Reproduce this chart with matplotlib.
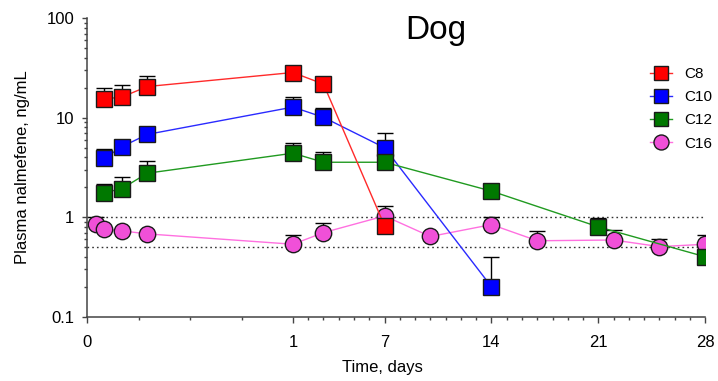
import numpy as np
import matplotlib
matplotlib.use('Agg')
import matplotlib.pyplot as plt
from matplotlib.lines import Line2D
from matplotlib.ticker import FixedLocator, NullFormatter

plt.rcParams['font.family'] = ['Liberation Sans', 'DejaVu Sans']

# --- data (time in days) ---
t_c8 = [2/24, 4/24, 7/24, 1, 3, 7]
c8 = [15.5, 16.1, 20.6, 28.5, 21.8, 0.82]
c8_top = [20.1, 21.1, 26.0, 30.5, 21.8, 0.82]

t_c10 = [2/24, 4/24, 7/24, 1, 3, 7, 14]
c10 = [3.9, 5.1, 6.8, 12.8, 10.1, 5.0, 0.2]
c10_top = [4.9, 5.1, 6.8, 16.3, 12.4, 7.1, 0.4]

t_c12 = [2/24, 4/24, 7/24, 1, 3, 7, 14, 21, 28]
c12 = [1.77, 1.93, 2.77, 4.4, 3.57, 3.57, 1.83, 0.80, 0.40]
c12_top = [2.18, 2.56, 3.71, 5.63, 4.57, 3.57, 1.83, 0.99, 0.40]

t_c16 = [1/24, 2/24, 4/24, 7/24, 1, 3, 7, 10, 14, 17, 22, 25, 28]
c16 = [0.85, 0.76, 0.73, 0.68, 0.535, 0.70, 1.03, 0.64, 0.843, 0.58, 0.59, 0.506, 0.535]
c16_top = [1.0, 0.76, 0.73, 0.68, 0.66, 0.87, 1.29, 0.64, 1.0, 0.72, 0.74, 0.61, 0.67]

x_major = [0, 1, 7, 14, 21, 28]
x_labels = ['0', '1', '7', '14', '21', '28']

# axis: first day stretched, then linear 1..28
k = 15.3 / 206.0


def fwd(x):
    x = np.asarray(x, dtype=float)
    return np.where(x <= 1, x, 1 + (x - 1) * k)


def inv(y):
    y = np.asarray(y, dtype=float)
    return np.where(y <= 1, y, 1 + (y - 1) / k)


fig = plt.figure(figsize=(7.18, 3.81), dpi=100)
ax = fig.add_axes([0.1216, 0.1688, 0.8607, 0.7832])
ax.set_xscale('function', functions=(fwd, inv))
ax.set_yscale('log')
ax.set_xlim(0, 28)
ax.set_ylim(0.1, 100)

for v in [1, 0.5]:
    ax.plot([0, 28], [v, v], ls=(0, (1.2, 2.2)), color='#333333', lw=1, zorder=1)

# drawn bottom to top
series = [
    (t_c16, c16, c16_top, 'o', '#f050d8', '#ff70e0', 'C16', 2),
    (t_c10, c10, c10_top, 's', '#0000ff', '#2a2aff', 'C10', 3),
    (t_c12, c12, c12_top, 's', '#007800', '#209a20', 'C12', 4),
    (t_c8, c8, c8_top, 's', '#ff0000', '#ff2a2a', 'C8', 5),
]

handles = {}
for t, y, top, mk, fc, lc, lab, z in series:
    y = np.array(y)
    err = np.array(top) - y
    ax.errorbar(t, y, yerr=[np.zeros_like(y), err], fmt='none', ecolor='black',
                elinewidth=1, capsize=6, capthick=1, zorder=z)
    ax.plot(t, y, '-', color=lc, lw=1, zorder=z)
    ms = 11.8 if mk == 'o' else 11.2
    ax.plot(t, y, mk, ms=ms, mfc=fc, mec='#1a1a1a', mew=1, ls='none', zorder=z + 0.5)
    handles[lab] = Line2D([0], [0], color=lc, lw=1, marker=mk, ms=ms - 1,
                          mfc=fc, mec='#1a1a1a', mew=1, label=lab)

ax.xaxis.set_major_locator(FixedLocator(x_major))
ax.set_xticklabels(x_labels)
minor = [0.25, 0.5, 0.75] + [d for d in range(2, 28) if d not in x_major]
ax.xaxis.set_minor_locator(FixedLocator(minor))
ax.xaxis.set_minor_formatter(NullFormatter())
ax.set_yticks([0.1, 1, 10, 100])
ax.set_yticklabels(['0.1', '1', '10', '100'])

for s in ['top', 'right']:
    ax.spines[s].set_visible(False)
for s in ['left', 'bottom']:
    ax.spines[s].set_color('#444444')
    ax.spines[s].set_linewidth(1.1)

ax.tick_params(axis='x', which='major', length=4, width=1, color='#444444', pad=9, labelsize=12)
ax.tick_params(axis='x', which='minor', length=2.5, width=1, color='#444444')
ax.tick_params(axis='y', which='major', length=3.5, width=1, color='#444444', pad=6, labelsize=12)
ax.tick_params(axis='y', which='minor', length=2.2, width=1, color='#444444')

ax.set_xlabel('Time, days', fontsize=12)
ax.xaxis.set_label_coords(0.477, -0.145)
ax.set_ylabel('Plasma nalmefene, ng/mL', fontsize=12, labelpad=12)
fig.text(0.607, 0.92, 'Dog', fontsize=24, ha='center', va='center')

fig.legend(handles=[handles[n] for n in ['C8', 'C10', 'C12', 'C16']],
           loc='upper left', bbox_to_anchor=(0.897, 0.84),
           frameon=False, fontsize=11, handlelength=1.4, handletextpad=0.8,
           labelspacing=0.6, borderaxespad=0)

fig.savefig('out.png', dpi=100)
